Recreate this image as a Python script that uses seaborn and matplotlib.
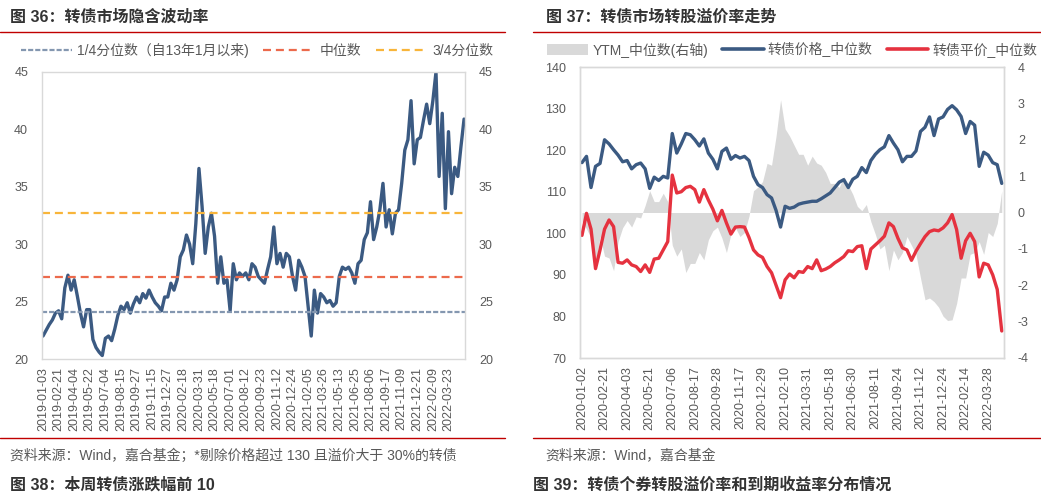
import numpy as np
import pandas as pd
import matplotlib
matplotlib.use("Agg")
import matplotlib.pyplot as plt
import seaborn as sns
from matplotlib.patches import Patch
from matplotlib.lines import Line2D

sns.set_theme(style="white")
plt.rcParams['font.family'] = ['Liberation Sans', 'Noto Sans CJK SC', 'DejaVu Sans']
plt.rcParams['axes.unicode_minus'] = False

# ---------------- data: left chart (implied volatility) ----------------
left_tick_labels = [
    "2019-01-03", "2019-02-21", "2019-04-04", "2019-05-22", "2019-07-04", "2019-08-15",
    "2019-09-27", "2019-11-15", "2019-12-27", "2020-02-18", "2020-03-31", "2020-05-18",
    "2020-07-01", "2020-08-12", "2020-09-23", "2020-11-12", "2020-12-24", "2021-02-05",
    "2021-03-26", "2021-05-13", "2021-06-25", "2021-08-06", "2021-09-17", "2021-11-09",
    "2021-12-21", "2022-02-09", "2022-03-23",
]
implied_vol = [
    22, 22.5, 23, 23.4, 24, 24.2, 23.5, 26.2, 27.3, 26.0,
    26.9, 25.5, 24, 22.8, 24.3, 24.3, 21.7, 21, 20.6, 20.3,
    21.8, 22, 21.6, 22.6, 23.8, 24.6, 24.3, 24.9, 24, 24.8,
    25.4, 24.9, 25.7, 25.3, 26, 25.4, 24.9, 24.6, 24.2, 25.4,
    25.4, 26.6, 26, 26.9, 28.9, 29.5, 30.8, 30, 28.3, 31.8,
    36.6, 33.3, 29.2, 31.5, 32.7, 30.7, 26.6, 28.9, 26.6, 26.9,
    24.2, 28.3, 26.9, 27.5, 27.2, 27.5, 26.9, 28.3, 28, 27.2,
    26.9, 26.6, 27.8, 28.9, 31.5, 28.3, 29.2, 28, 29.2, 28.9,
    27.2, 26, 28.6, 28, 27.2, 24.6, 22, 26, 24, 25.7,
    25.4, 24.9, 25.1, 24.6, 24.9, 27.2, 28, 27.8, 28, 27.5,
    26.6, 28.3, 28.6, 30.4, 31, 33.7, 30.4, 31.5, 33, 35.3,
    31.5, 33, 30.9, 32.7, 33, 35.3, 38.2, 39.1, 42.5, 37,
    39.1, 39.3, 40.8, 42.2, 40.5, 42.5, 45, 35.9, 41.4, 33.1,
    39.8, 34.4, 36.7, 35.9, 38.5, 40.9,
]
q25_value = 24.1
q50_value = 27.1
q75_value = 32.7
left_legend_labels = ["1/4分位数（自13年1月以来)", "中位数", "3/4分位数"]

# ---------------- data: right chart (premium) ----------------
right_tick_labels = [
    "2020-01-02", "2020-02-21", "2020-04-03", "2020-05-21", "2020-07-06", "2020-08-17",
    "2020-09-28", "2020-11-17", "2020-12-29", "2021-02-10", "2021-03-31", "2021-05-18",
    "2021-06-30", "2021-08-11", "2021-09-24", "2021-11-12", "2021-12-24", "2022-02-14",
    "2022-03-28",
]
price_median = [
    117.0, 118.5, 111.0, 116.1, 116.8, 122.5, 121.5, 120.1, 118.8, 117.2,
    117.5, 115.5, 116.5, 116.9, 115.5, 110.8, 113.5, 112.7, 113.7, 113.3,
    124.0, 119.3, 121.5, 124.0, 123.7, 122.5, 121.0, 122.7, 119.3, 117.8,
    115.5, 119.7, 120.5, 117.8, 118.7, 118.1, 118.5, 117.5, 113.7, 111.7,
    111.0, 109.3, 108.5, 105.5, 101.5, 106.5, 106.0, 106.3, 107.0, 107.3,
    107.5, 107.7, 107.7, 108.3, 109.0, 109.7, 111.0, 112.3, 112.9, 111.0,
    113.0, 113.7, 115.8, 114.6, 117.5, 119.0, 120.1, 120.8, 123.5, 121.7,
    120.1, 117.2, 118.5, 118.5, 119.8, 124.5, 125.5, 128.0, 123.5, 127.5,
    128.0, 129.8, 130.7, 129.7, 128.1, 124.0, 126.9, 126.0, 116.1, 119.5,
    118.8, 117.0, 116.5, 112.0,
]
parity_median = [
    99.5, 104.8, 101.0, 91.5, 96.0, 101.0, 103.2, 101.6, 93.0, 92.8,
    93.6, 92.4, 92.0, 90.8, 92.4, 90.6, 93.8, 94.0, 96.0, 98.0,
    114.0, 109.7, 110.0, 111.0, 111.3, 110.5, 107.5, 110.5, 108.0, 105.8,
    103.0, 105.5, 102.5, 99.8, 101.5, 101.6, 101.5, 99.0, 96.0, 94.8,
    94.2, 92.0, 90.5, 87.5, 84.5, 88.8, 90.2, 89.3, 90.8, 90.6,
    92.0, 91.5, 93.6, 91.0, 91.4, 92.0, 92.9, 93.6, 94.4, 95.8,
    95.6, 96.8, 97.0, 91.5, 96.2, 97.2, 98.2, 99.3, 102.5, 101.6,
    98.8, 96.5, 96.0, 93.5, 95.7, 97.5, 99.2, 100.4, 100.8, 100.6,
    101.3, 102.5, 104.5, 100.9, 94.0, 98.2, 100.0, 98.0, 89.5, 92.8,
    92.4, 90.0, 86.5, 76.5,
]
ytm_median = [
    -0.25, -0.45, -0.7, -1.45, -0.66, -1.2, -1.25, -1.6, -0.8, -0.42,
    -0.22, -0.4, -0.12, -0.15, 0.2, 0.6, 0.3, 0.3, 0.53, 0.3,
    -0.9, -1.2, -1.0, -1.65, -1.4, -1.4, -1.1, -1.3, -0.75, -0.5,
    -0.4, -0.7, -1.1, -0.6, -0.42, -0.66, -0.55, -0.1, 0.6, 0.7,
    0.85, 1.35, 1.3, 2.1, 3.1, 2.3, 2.1, 1.85, 1.6, 1.6,
    1.3, 1.55, 1.36, 1.3, 1.1, 0.8, 0.8, 0.69, 0.99, 0.75,
    0.5, 0.17, 0.05, 0.22, -0.25, -0.6, -1.0, -0.9, -1.6, -1.03,
    -1.3, -1.1, -0.66, -0.9, -1.15, -1.8, -2.4, -2.35, -2.45, -2.6,
    -2.85, -2.97, -2.95, -2.5, -1.8, -1.8, -1.15, -1.1, -0.8, -1.15,
    -0.55, -0.66, -0.3, 0.6,
]
right_legend_labels = ["YTM_中位数(右轴)", "转债价格_中位数", "转债平价_中位数"]

# ---------------- styles ----------------
TXT = "#595959"
FRAME = "#D9D9D9"
RULE = "#C00000"
BLUE = "#3B5A82"
RED = "#E5323F"
GRAY = "#D9D9D9"
C25, C50, C75 = "#8497B0", "#EC6A4C", "#F8B53A"
STEP = 5  # samples per labelled tick interval

fig = plt.figure(figsize=(10.41, 4.97), dpi=100)
W, H = 1041, 497

def fx(px):
    return px / W

def fy(py):
    return 1 - py / H

def style_axis(ax):
    for sp in ax.spines.values():
        sp.set_color(FRAME)
        sp.set_linewidth(1.0)
    ax.grid(False)

# ---------------- left chart ----------------
axl = fig.add_axes([fx(42), fy(359), fx(465 - 42), (359 - 72) / H])
xl = np.arange(len(implied_vol))
sns.lineplot(x=xl, y=implied_vol, ax=axl, color=BLUE, linewidth=2.4, legend=False)
h25 = axl.axhline(q25_value, color=C25, lw=1.6, dashes=(2.3, 0.9))
h50 = axl.axhline(q50_value, color=C50, lw=1.6, dashes=(3.6, 2.2))
h75 = axl.axhline(q75_value, color=C75, lw=1.6, dashes=(3.6, 2.2))
axl.set_xlim(-0.32, 135.3)
axl.set_ylim(20, 45)
axl.set_yticks([20, 25, 30, 35, 40, 45])
axl.set_xticks(np.arange(len(left_tick_labels)) * STEP)
axl.set_xticklabels(left_tick_labels, rotation=90)
axl.tick_params(axis='y', length=0, labelsize=9, colors=TXT, pad=10, labelright=True)
axl.tick_params(axis='x', length=0, labelsize=9, colors=TXT, pad=6)
axl.set_xlabel("")
axl.set_ylabel("")
style_axis(axl)
fig.legend([h25, h50, h75], left_legend_labels, loc='center',
           bbox_to_anchor=(fx(257), fy(50)), ncol=3, frameon=False,
           fontsize=10, labelcolor=TXT, handlelength=3.7, handletextpad=0.4,
           columnspacing=1.0)

# ---------------- right chart ----------------
axr = fig.add_axes([fx(580), fy(358), fx(1004 - 580), (358 - 67) / H])
axy = axr.twinx()
xr = np.arange(len(price_median))
axy.fill_between(xr, 0, ytm_median, color=GRAY, linewidth=0)
sns.lineplot(x=xr, y=price_median, ax=axr, color=BLUE, linewidth=2.4, legend=False)
sns.lineplot(x=xr, y=parity_median, ax=axr, color=RED, linewidth=2.4, legend=False)
axr.set_zorder(axy.get_zorder() + 1)
axr.patch.set_visible(False)
axr.set_xlim(-0.44, 93.5)
axr.set_ylim(70, 140)
axy.set_ylim(-4, 4)
axr.set_yticks(np.arange(70, 141, 10))
axy.set_yticks(np.arange(-4, 5, 1))
axr.set_xticks(np.arange(len(right_tick_labels)) * STEP)
axr.set_xticklabels(right_tick_labels, rotation=90)
axr.tick_params(axis='y', length=0, labelsize=9, colors=TXT, pad=10)
axy.tick_params(axis='y', length=0, labelsize=9, colors=TXT, pad=10)
axr.tick_params(axis='x', length=0, labelsize=9, colors=TXT, pad=6)
axr.set_xlabel("")
axr.set_ylabel("")
axy.set_ylabel("")
style_axis(axr)
style_axis(axy)
axy.grid(False)
rh = [Patch(facecolor=GRAY, edgecolor='none'),
      Line2D([], [], color=BLUE, lw=2.6),
      Line2D([], [], color=RED, lw=2.6)]
fig.legend(rh, right_legend_labels, loc='center',
           bbox_to_anchor=(fx(792), fy(50)), ncol=3, frameon=False,
           fontsize=10, labelcolor=TXT, handlelength=3.0, handleheight=0.9,
           handletextpad=0.3, columnspacing=1.0)

# ---------------- titles, rules, sources ----------------
title_kw = dict(fontsize=11.5, fontweight='bold', color='#333333', va='center', ha='left')
fig.text(fx(10), fy(17), "图 36：转债市场隐含波动率", **title_kw)
fig.text(fx(546), fy(17), "图 37：转债市场转股溢价率走势", **title_kw)
fig.text(fx(10), fy(485), "图 38：本周转债涨跌幅前 10", **title_kw)
fig.text(fx(533), fy(485), "图 39：转债个券转股溢价率和到期收益率分布情况", **title_kw)

for (x0, x1, y) in [(0, 505, 32), (533, 1041, 32), (0, 505, 438), (533, 1041, 438)]:
    fig.add_artist(Line2D([fx(x0), fx(x1)], [fy(y), fy(y)], transform=fig.transFigure,
                          color=RULE, lw=1.0))

src_kw = dict(fontsize=10, color=TXT, va='center', ha='left')
fig.text(fx(10), fy(456), "资料来源：Wind，嘉合基金；*剔除价格超过 130 且溢价大于 30%的转债", **src_kw)
fig.text(fx(545), fy(456), "资料来源：Wind，嘉合基金", **src_kw)

fig.savefig("out.png", dpi=100)
